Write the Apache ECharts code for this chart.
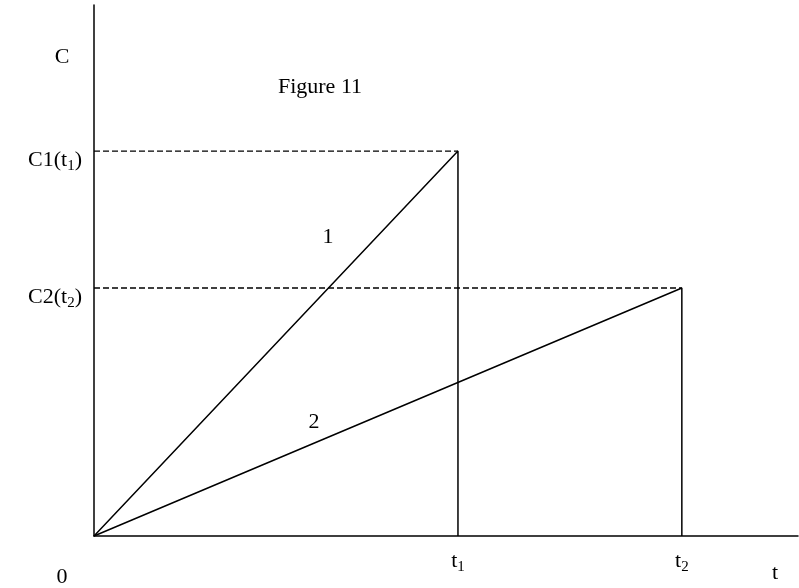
<!DOCTYPE html>
<html>
<head>
<meta charset="utf-8">
<style>
  html, body { margin: 0; padding: 0; background: #fff; }
  #chart { width: 799px; height: 588px; }
</style>
<script src="https://cdn.jsdelivr.net/npm/echarts@6/dist/echarts.min.js"></script>
</head>
<body>
<div id="chart"></div>
<script>
// Times of the two peaks on the t axis, and the concentrations reached there
const tPeaks = [5.17, 8.35];          // t1, t2
const cPeaks = [7.25, 4.67];          // C1(t1), C2(t2)
const xAxisMax = 10;
const yAxisMax = 10;

// Tick labels (main text + subscript index)
const xTickLabels = [['t', '1'], ['t', '2']];
const yTickLabels = [['C1(t', '1', ')'], ['C2(t', '2', ')']];

// Curves: linear rise to the peak, then an instant drop back to zero
const curve1 = [[0, 0], [tPeaks[0], cPeaks[0]], [tPeaks[0], 0]];
const curve2 = [[0, 0], [tPeaks[1], cPeaks[1]], [tPeaks[1], 0]];

// Dashed guides from the C axis to each peak
const guide1 = [[0, cPeaks[0]], [tPeaks[0], cPeaks[0]]];
const guide2 = [[0, cPeaks[1]], [tPeaks[1], cPeaks[1]]];

const FONT = '"Liberation Serif", "Times New Roman", serif';
const FS = 22;

const chart = echarts.init(document.getElementById('chart'), null, { renderer: 'canvas' });

const rich = {
  m: { fontFamily: FONT, fontSize: FS, color: '#000', lineHeight: 28, verticalAlign: 'middle' },
  s: { fontFamily: FONT, fontSize: 15, color: '#000', lineHeight: 28, verticalAlign: 'bottom', padding: [0, 0, 0, 0] }
};

function labelFor(list, values, v) {
  let best = 0;
  values.forEach((val, i) => { if (Math.abs(val - v) < Math.abs(values[best] - v)) best = i; });
  const p = list[best];
  return '{m|' + p[0] + '}{s|' + p[1] + '}' + (p[2] ? '{m|' + p[2] + '}' : '');
}

const lineStyle = { color: '#000', width: 1.5 };
const dashStyle = { color: '#000', width: 1.3, type: [6, 3] };

chart.setOption({
  animation: false,
  backgroundColor: '#fff',
  grid: { left: 94, right: 1, top: 5, bottom: 52, containLabel: false, outerBoundsMode: 'none' },
  xAxis: {
    type: 'value', min: 0, max: xAxisMax,
    axisLine: { show: true, onZero: true, lineStyle: { color: '#000', width: 1.5 } },
    axisTick: { show: false },
    splitLine: { show: false },
    axisLabel: {
      customValues: tPeaks,
      margin: 11,
      showMinLabel: true, showMaxLabel: true,
      formatter: v => labelFor(xTickLabels, tPeaks, v),
      rich: rich
    }
  },
  yAxis: {
    type: 'value', min: 0, max: yAxisMax,
    axisLine: { show: true, lineStyle: { color: '#000', width: 1.5 } },
    axisTick: { show: false },
    splitLine: { show: false },
    axisLabel: {
      customValues: cPeaks,
      margin: 12,
      padding: [18, 0, 0, 0],
      formatter: v => labelFor(yTickLabels, cPeaks, v),
      rich: rich
    }
  },
  series: [
    { name: 'guide1', type: 'line', data: guide1, symbol: 'none', lineStyle: dashStyle, silent: true },
    { name: 'guide2', type: 'line', data: guide2, symbol: 'none', lineStyle: dashStyle, silent: true },
    { name: '1', type: 'line', data: curve1, symbol: 'none', lineStyle: lineStyle },
    { name: '2', type: 'line', data: curve2, symbol: 'none', lineStyle: lineStyle }
  ],
  graphic: [
    { type: 'text', x: 62, y: 57, style: { text: 'C', font: FS + 'px ' + FONT, fill: '#000', align: 'center', verticalAlign: 'middle' } },
    { type: 'text', x: 320, y: 87, style: { text: 'Figure 11', font: FS + 'px ' + FONT, fill: '#000', align: 'center', verticalAlign: 'middle' } },
    { type: 'text', x: 328, y: 237, style: { text: '1', font: FS + 'px ' + FONT, fill: '#000', align: 'center', verticalAlign: 'middle' } },
    { type: 'text', x: 314, y: 422, style: { text: '2', font: FS + 'px ' + FONT, fill: '#000', align: 'center', verticalAlign: 'middle' } },
    { type: 'text', x: 62, y: 577, style: { text: '0', font: FS + 'px ' + FONT, fill: '#000', align: 'center', verticalAlign: 'middle' } },
    { type: 'text', x: 775, y: 573, style: { text: 't', font: FS + 'px ' + FONT, fill: '#000', align: 'center', verticalAlign: 'middle' } }
  ]
});
</script>
</body>
</html>
